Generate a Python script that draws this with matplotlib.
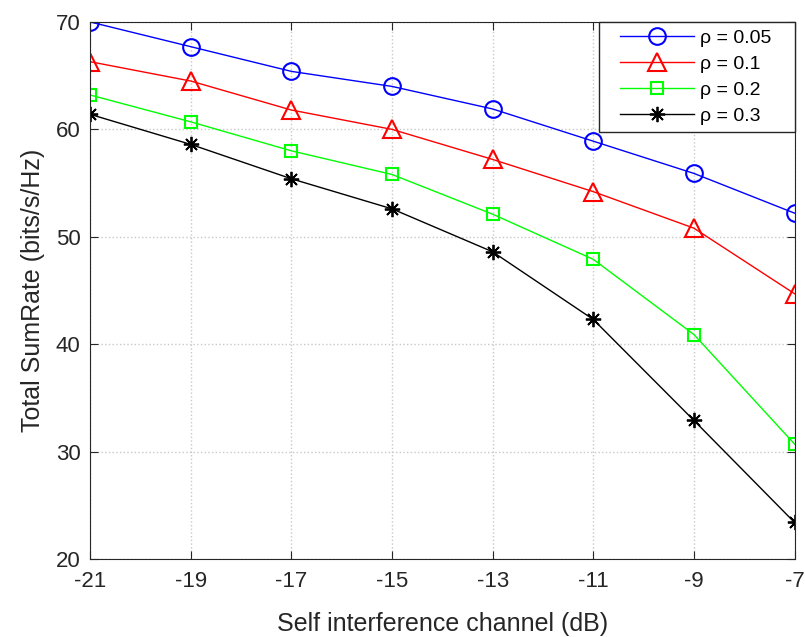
import numpy as np
import matplotlib.pyplot as plt
from matplotlib.legend_handler import HandlerLine2D

plt.rcParams['font.family'] = ['Liberation Sans', 'DejaVu Sans']
plt.rcParams['axes.unicode_minus'] = False

x = [-21, -19, -17, -15, -13, -11, -9, -7]
rho005 = [70.0, 67.7, 65.4, 64.0, 61.9, 58.9, 55.9, 52.2]
rho01 = [66.3, 64.5, 61.8, 60.0, 57.2, 54.2, 50.8, 44.7]
rho02 = [63.2, 60.7, 58.0, 55.8, 52.1, 47.9, 40.9, 30.7]
rho03 = [61.4, 58.6, 55.4, 52.6, 48.6, 42.3, 32.9, 23.4]
labels = ['ρ = 0.05', 'ρ = 0.1', 'ρ = 0.2', 'ρ = 0.3']

fig = plt.figure(figsize=(8.05, 6.37), dpi=100)
ax = fig.add_axes([0.112, 0.1225, 0.875, 0.843])

l1, = ax.plot(x, rho005, '-o', color='b', lw=1, ms=12, mfc='none', mew=1.5)
l2, = ax.plot(x, rho01, '-^', color='r', lw=1, ms=13, mfc='none', mew=1.5)
l3, = ax.plot(x, rho02, '-s', color='#00ff00', lw=1, ms=9, mfc='none', mew=1.5)
# asterisk marker like matlab '*'
l4, = ax.plot(x, rho03, '-', color='k', lw=1, marker=(8, 2, 0), ms=11, mew=1.3)

ax.set_xlim(-21, -7)
ax.set_ylim(20, 70)
ax.set_xticks(x)
ax.set_yticks([20, 30, 40, 50, 60, 70])
ax.grid(True, ls=':', color='#c8c8c8', lw=1)
ax.tick_params(direction='in', top=True, right=True, labelsize=16, colors='#262626', length=6)
ax.tick_params(axis='x', pad=9)
ax.tick_params(axis='y', pad=7)
for s in ax.spines.values():
    s.set_color('#262626')
ax.set_xlabel('Self interference channel (dB)', fontsize=18, color='#262626', labelpad=14)
ax.set_ylabel('Total SumRate (bits/s/Hz)', fontsize=18, color='#262626', labelpad=8)

# matlab-like legend: wide side margins
hmap = {l: HandlerLine2D(xpad=0.67) for l in (l1, l2, l3, l4)}
leg = ax.legend([l1, l2, l3, l4], [s + '   ' for s in labels], handler_map=hmap,
                loc='upper right', fontsize=14, fancybox=False, edgecolor='#262626',
                handlelength=4.5, handletextpad=0.3, borderpad=0.37, borderaxespad=0.0,
                framealpha=1, labelspacing=0.43)
leg.get_frame().set_linewidth(1)

fig.savefig('out.png', dpi=100)
